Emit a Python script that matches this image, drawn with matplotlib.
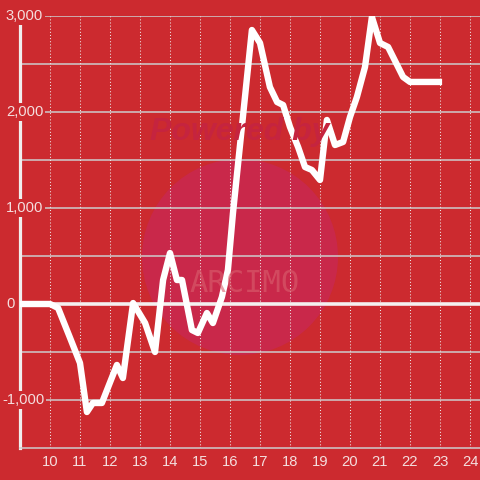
import matplotlib
matplotlib.use('Agg')
import matplotlib.pyplot as plt
import matplotlib.transforms as mtransforms
from matplotlib.patches import Circle

plt.rcParams['font.family'] = ['Liberation Sans', 'DejaVu Sans']

# data (hour of day, value)
hours = [9.0, 10.0, 10.1, 10.27, 10.67, 11.0, 11.23, 11.43, 11.73, 11.9,
         12.23, 12.43, 12.77, 13.17, 13.5, 13.77, 14.0, 14.23, 14.4, 14.73,
         14.93, 15.23, 15.43, 15.73, 15.93, 16.1, 16.73, 17.0, 17.33, 17.57,
         17.77, 18.0, 18.27, 18.5, 18.73, 19.0, 19.23, 19.5, 19.77, 20.0,
         20.23, 20.5, 20.73, 21.0, 21.27, 21.77, 22.0, 23.07]
values = [0, 0, -15, -42, -354, -615, -1125, -1031, -1031, -896,
          -635, -771, 10, -198, -500, 250, 531, 250, 250, -271,
          -302, -94, -198, 73, 354, 950, 2854, 2719, 2260, 2104,
          2073, 1844, 1635, 1427, 1396, 1292, 1917, 1656, 1688, 1948,
          2156, 2469, 2990, 2719, 2677, 2365, 2313, 2313]

x_ticks = list(range(10, 25))
y_major = [3000, 2000, 1000, 0, -1000]
y_labels = ['3,000', '2,000', '1,000', '0', '-1,000']
y_minor = [2500, 1500, 500, -500]

bg = '#cc2a2f'
txt = '#f4dede'

fig = plt.figure(figsize=(4.8, 4.8), dpi=100)
fig.patch.set_facecolor(bg)
ax = fig.add_axes([20/480, 32/480, 460/480, 432/480])
ax.set_facecolor(bg)

# watermark
ax.add_patch(Circle((0.5, 1 - 257/480), 98/480, transform=fig.transFigure,
                    facecolor='#c9284a', edgecolor='none', zorder=0.5))
fig.text(240/480, 1 - 132/480, 'Powered by', color='#c5243f', fontsize=23,
         fontstyle='italic', fontweight='bold', ha='center', va='center', zorder=0.6)
fig.text(245/480, 1 - 284/480, 'ARCIMO', color='#d9606e', fontsize=22,
         family='DejaVu Sans Mono', ha='center', va='center', alpha=0.6, zorder=0.6)

ax.set_xlim(9, 9 + 460/30)
ax.set_ylim(-1500, 3000)

# grid
for v in y_major + y_minor:
    if v != 0:
        ax.axhline(v, color='#cdcdcd', lw=1.1, zorder=1)
for h in x_ticks:
    ax.axvline(h, color='#ece4e4', lw=0.75, ls=(0, (1, 2)), zorder=1)
ax.axhline(0, color='#f4f0f0', lw=2.6, zorder=2.7)

ax.plot(hours, values, color='white', lw=4.6, solid_joinstyle='round',
        solid_capstyle='butt', zorder=3)

for s in ['top', 'right']:
    ax.spines[s].set_visible(False)
ax.spines['bottom'].set_color('#cdcdcd')
ax.spines['bottom'].set_linewidth(1.1)
ax.spines['left'].set_color('#f0eeee')
ax.spines['left'].set_linewidth(2.3)

ax.set_xticks(x_ticks)
ax.set_xticklabels([str(h) for h in x_ticks])
ax.tick_params(axis='x', length=0, pad=5, labelsize=10.6, labelcolor=txt)
ax.set_yticks([])

trans = mtransforms.blended_transform_factory(fig.transFigure, ax.transData)
for v, lab in zip(y_major, y_labels):
    x0 = 2/480 if v < 0 else 6/480
    ax.text(x0, v, lab, transform=trans, ha='left', va='center', fontsize=10.6,
            color=txt, zorder=2.8,
            bbox=dict(facecolor=bg, edgecolor='none', pad=1.5))

fig.savefig('out.png', dpi=100, facecolor=bg)
